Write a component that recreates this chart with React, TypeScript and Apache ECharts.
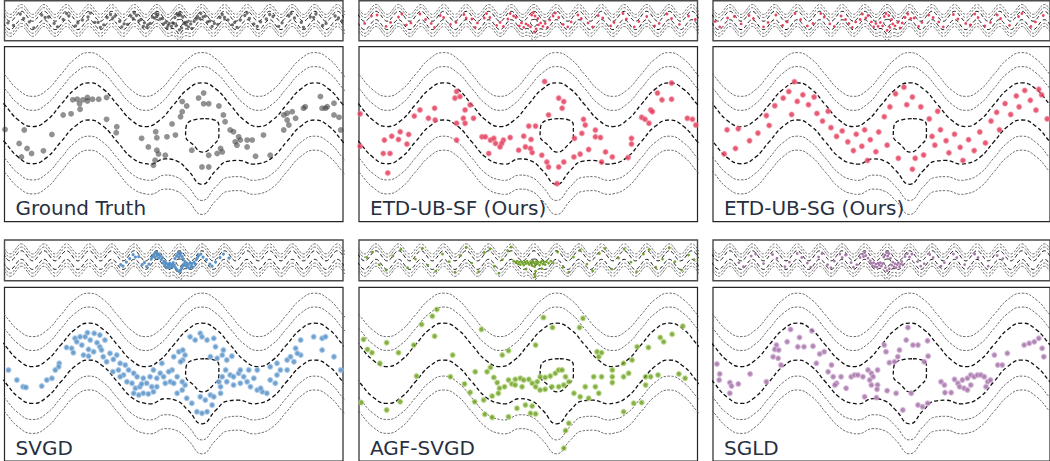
import React, { useEffect, useRef } from "react";
import * as echarts from "echarts";

// ---------- density contours ----------
// band centre over one period (2 x-units), read at quarter steps
const periodOffsets = [0, 0.25, 0.5, 0.75, 1, 1.25, 1.5, 1.75];
const periodCentre = [0, 0.71, 1, 0.71, 0, -0.71, -1, -0.71];
const periodStarts = [-16, -14, -12, -10, -8, -6, -4, -2, 0, 2, 4, 6, 8, 10, 12, 14];
const bandEnd = [16, 0];
// lower half of the band dips around x = 0.5
const dipX = [-0.42, -0.15, 0.05, 0.25, 0.5, 0.75, 0.95, 1.15, 1.42];
const dipY = [-1.02, -0.78, -0.87, -1.3, -1.94, -1.3, -0.89, -0.85, -1.02];
// contour offsets from the band centre
const thickOffsets = [0.85, -0.85];
const thinOffsets = [1.59, 2.23, -1.59, -2.23];
// closed inner contour (hole)
const holeX = [0.56, 0.71, 0.8, 0.8, 0.7, 0.51, 0.35, 0.21, 0.22, 0.38, 0.56];
const holeY = [0.21, 0.16, -0.1, -0.55, -1.0, -1.32, -1.0, -0.55, -0.15, 0.17, 0.21];

// ---------- axis ranges ----------
const bigX = [-3, 3];
const bigY = [-4.5, 3.5];
const stripX = [-15, 15];
const stripY = [-4.1, 4.0];

// ---------- titles ----------
const titles = ["Ground Truth", "ETD-UB-SF (Ours)", "ETD-UB-SG (Ours)", "SVGD", "AGF-SVGD", "SGLD"];

// ---------- particles, zoomed view ----------
const gtBig = [[-1.79,1.07],[-1.71,1.10],[-1.61,1.07],[-1.53,1.18],[-1.53,1.02],[-1.44,1.10],[-1.33,1.10],[-1.19,1.18],[-1.66,0.64],[-1.67,0.89],[-1.96,0.38],[-1.82,0.43],[-1.19,0.18],[-2.99,-0.28],[-2.65,-0.31],[-2.16,-0.51],[-1.01,-0.16],[-1.02,-0.43],[-2.74,-0.92],[-2.60,-1.15],[-2.52,-1.38],[-2.31,-1.26],[-2.70,-1.54],[-0.57,-0.69],[-0.32,-0.39],[-0.30,-0.66],[-0.45,-1.08],[-0.30,-1.23],[-0.27,-1.41],[-0.15,-1.46],[-0.33,-1.69],[-0.36,-1.92],[-0.03,-0.03],[-0.12,-0.62],[0.03,-0.54],[0.15,0.99],[0.23,0.79],[0.15,0.53],[0.12,0.30],[0.44,1.15],[0.53,1.38],[0.53,0.89],[0.62,0.89],[0.80,0.79],[0.88,0.38],[0.91,0.07],[0.32,-1.23],[0.62,-1.46],[0.83,-1.15],[0.86,-1.31],[0.77,-1.38],[0.50,-2.00],[0.62,-2.00],[1.00,-0.31],[1.06,-0.39],[1.15,-0.62],[1.18,-0.77],[1.09,-0.85],[1.12,-1.00],[1.30,-0.77],[1.39,-0.77],[1.30,-1.08],[1.45,-1.51],[1.59,-0.54],[1.71,-1.46],[1.95,0.38],[2.01,0.46],[2.10,0.53],[2.01,0.15],[2.16,0.23],[1.95,-0.31],[2.04,-0.08],[2.30,0.69],[2.33,0.76],[2.60,1.22],[2.63,0.69],[2.69,0.69],[2.72,0.76],[2.84,0.92],[2.84,0.38],[2.93,0.27],[2.96,-0.31]];
const sfBig = [[-2.98,0.43],[-2.98,-1.05],[0.29,1.91],[2.54,1.84],[-1.27,1.45],[-1.30,1.15],[-1.21,1.22],[2.29,1.38],[2.37,1.07],[2.54,1.10],[0.54,1.15],[0.63,0.99],[0.60,0.69],[-1.92,0.61],[-1.66,0.69],[-2.02,0.33],[-1.77,0.23],[-1.65,0.15],[-1.12,0.61],[-1.03,0.84],[-1.15,0.23],[-1.12,0.00],[-1.27,0.00],[-0.97,0.23],[0.36,0.38],[2.17,0.61],[2.20,0.53],[2.01,0.27],[2.07,0.18],[2.14,0.00],[2.82,0.23],[2.91,0.18],[2.97,-0.08],[0.98,0.18],[1.01,-0.08],[1.19,-0.31],[1.19,-0.62],[1.28,-0.65],[0.95,-0.46],[0.82,-0.69],[0.01,-0.13],[0.13,-0.13],[-0.08,-0.59],[0.05,-0.74],[0.04,-1.15],[-0.05,-1.08],[-2.27,-0.39],[-2.42,-0.59],[-2.30,-0.74],[-2.12,-0.51],[-2.55,-0.77],[-2.15,-0.95],[-2.57,-1.38],[-2.45,-1.38],[-2.49,-2.27],[-1.27,-0.77],[-0.82,-0.62],[-0.76,-0.62],[-0.67,-0.77],[-0.61,-0.69],[-0.44,-0.77],[-0.32,-0.65],[-0.47,-0.92],[-0.58,-0.92],[-0.50,-1.08],[-0.70,-1.38],[-0.17,-1.23],[0.07,-1.34],[0.24,-1.46],[0.33,-1.77],[0.36,-2.00],[0.63,-1.77],[0.54,-2.00],[0.51,-2.76],[0.81,-1.54],[0.92,-1.41],[1.07,-1.20],[1.37,-1.31],[1.49,-1.54],[1.30,-1.77],[1.77,-1.57],[1.83,-0.95],[1.83,-0.69]];
const sgBig = [[-2.75,-0.30],[-2.55,-0.25],[-2.80,-1.40],[-2.60,-1.15],[-2.35,-0.80],[-2.20,-0.45],[-2.05,0.35],[-2.00,-0.10],[-1.90,0.80],[-1.75,1.15],[-1.65,1.45],[-1.55,1.90],[-1.50,1.00],[-1.40,1.30],[-1.30,0.85],[-1.20,1.20],[-1.15,0.45],[-1.05,0.10],[-0.95,0.55],[-0.90,-0.20],[-0.80,-0.60],[-0.70,-0.35],[-0.60,-0.85],[-0.50,-1.25],[-0.45,-0.50],[-0.35,-1.05],[-0.30,-0.30],[-0.20,-0.75],[-0.10,-1.30],[-0.05,-0.40],[0.05,0.30],[0.10,-1.00],[0.15,0.75],[0.25,1.35],[0.30,-1.60],[0.40,1.65],[0.45,0.85],[0.55,1.20],[0.55,-2.10],[0.60,-1.60],[0.70,0.75],[0.75,-1.45],[0.85,0.20],[0.90,-0.60],[0.95,-1.00],[1.05,-0.30],[1.15,-0.80],[1.20,-1.35],[1.30,-0.50],[1.40,-1.10],[1.45,-1.70],[1.55,-0.75],[1.65,-1.25],[1.75,-0.40],[1.85,-0.90],[1.95,0.10],[2.05,0.50],[2.10,-0.30],[2.20,0.90],[2.30,0.40],[2.40,1.25],[2.45,0.75],[2.55,1.50],[2.65,1.05],[2.75,0.60],[2.85,1.30],[2.95,0.20],[-0.25,-1.70],[1.00,0.55],[-1.60,0.40],[2.80,1.55]];
const svgdBig = [[-1.75,1.15],[-1.66,1.22],[-1.53,1.41],[-1.41,1.38],[-1.31,1.30],[-1.22,1.07],[-1.36,0.95],[-1.48,1.07],[-1.63,0.84],[-1.81,0.69],[-1.90,0.73],[-1.78,0.49],[-1.51,0.64],[-1.60,0.38],[-1.42,0.53],[-1.31,0.76],[-1.51,0.33],[-1.13,0.46],[-1.01,0.38],[-1.07,0.18],[-1.25,0.30],[-1.19,0.07],[-2.03,0.00],[-2.04,-0.16],[-2.10,-0.31],[-2.25,-0.77],[-2.34,-1.05],[-2.67,-1.08],[-2.62,-1.11],[-2.78,-0.77],[-2.93,-0.31],[-2.16,-0.69],[-0.95,0.00],[-0.86,-0.08],[-0.98,-0.31],[-0.89,-0.54],[-0.80,-0.31],[-0.71,-0.46],[-0.65,-0.62],[-0.74,-0.92],[-0.83,-0.85],[-0.68,-1.15],[-0.60,-1.08],[-0.71,-1.38],[-0.62,-1.46],[-0.54,-1.38],[-0.45,-1.41],[-0.36,-1.31],[-0.39,-1.08],[-0.48,-0.92],[-0.54,-0.69],[-0.42,-0.62],[-0.30,-0.69],[-0.24,-0.46],[-0.18,-0.62],[-0.21,0.00],[-0.15,-0.92],[-0.06,-0.85],[0.00,-0.92],[0.06,-1.38],[0.15,-1.23],[0.20,-1.00],[0.15,-0.85],[0.06,-0.62],[-0.03,-0.31],[0.00,0.30],[0.09,0.53],[0.16,0.61],[0.20,0.38],[0.16,0.15],[0.12,0.07],[0.29,1.22],[0.38,1.07],[0.47,1.38],[0.50,1.22],[0.59,1.07],[0.71,1.15],[0.74,0.76],[0.65,0.30],[0.77,0.23],[0.86,0.38],[0.88,0.61],[1.03,0.33],[0.94,0.15],[0.92,-0.31],[0.32,-1.84],[0.41,-2.23],[0.50,-2.30],[0.59,-2.23],[0.68,-1.92],[0.65,-1.46],[0.71,-1.54],[0.83,-1.38],[0.83,-1.08],[0.80,-0.85],[0.86,-0.62],[1.00,-0.54],[1.06,-0.62],[1.15,-0.46],[1.24,-0.62],[1.30,-0.85],[1.18,-0.92],[1.33,-0.31],[1.48,-0.31],[1.42,-0.69],[1.48,-1.23],[1.57,-1.31],[1.65,-1.38],[1.54,-1.15],[1.71,-0.77],[1.83,-0.54],[1.89,-0.31],[1.83,0.00],[1.71,-0.16],[1.80,-0.92],[2.01,0.15],[2.07,0.30],[2.16,0.69],[2.25,0.38],[2.13,0.07],[2.48,1.22],[2.63,1.15],[2.69,1.22],[2.63,0.61],[2.84,0.30],[2.96,-0.31],[0.47,-1.54],[0.56,-1.69],[0.23,-1.61],[-0.36,-0.31],[-0.09,-0.39],[-0.30,-1.08],[-0.57,-0.95],[-0.95,-0.62],[-1.08,-0.39],[-1.28,0.61],[-1.72,0.99],[-1.57,1.22],[1.18,-0.31],[1.36,-1.08],[1.06,-1.00],[0.94,-0.85],[2.19,0.46],[2.01,-0.31],[2.25,1.07]];
const agfBig = [[-2.92,1.10],[-2.85,0.64],[-2.77,0.49],[-2.51,0.95],[-2.63,0.00],[-2.30,0.49],[-2.03,0.84],[-1.89,1.79],[-1.70,2.17],[-1.62,2.48],[-1.66,1.25],[-1.34,0.38],[-1.98,-0.59],[-1.38,-0.62],[-1.13,-0.95],[-1.03,-1.34],[-0.94,-0.39],[-0.73,-0.39],[-0.67,-0.19],[-2.96,-1.81],[-2.51,-2.15],[-2.27,-1.77],[-0.95,-1.77],[-0.79,-1.69],[-0.77,-2.35],[-0.64,-2.49],[-0.35,-2.46],[-0.20,-2.07],[-0.05,-1.92],[0.07,-1.97],[0.04,-2.30],[0.13,-2.33],[-0.83,1.56],[-0.46,0.38],[-0.35,0.58],[0.27,2.11],[0.13,0.84],[0.43,1.65],[0.97,2.07],[0.91,1.65],[-0.61,-0.65],[-0.55,-0.89],[-0.51,-1.15],[-0.42,-1.08],[-0.35,-0.77],[-0.29,-0.95],[-0.23,-0.74],[-0.14,-0.69],[-0.08,-0.77],[0.01,-0.74],[0.07,-0.92],[0.16,-0.85],[0.21,-0.62],[0.30,-0.65],[0.39,-0.59],[0.48,-0.46],[0.54,-0.31],[0.60,-0.31],[0.66,-0.62],[0.72,-0.85],[0.63,-1.00],[0.54,-1.08],[0.42,-1.08],[0.30,-1.20],[0.21,-1.23],[0.13,-1.08],[-0.11,-1.08],[-0.23,-1.00],[-0.53,-1.38],[-0.64,-1.51],[0.81,-1.38],[0.92,-1.54],[1.07,-1.61],[1.25,-1.38],[1.19,-1.08],[1.30,-0.62],[1.16,-0.62],[1.01,-1.08],[1.49,-0.31],[1.49,-0.62],[1.69,-0.62],[1.78,-0.46],[1.69,0.00],[1.84,0.15],[1.93,0.76],[2.13,0.73],[1.49,-0.89],[1.22,0.53],[1.30,0.49],[1.25,0.30],[2.08,-0.62],[2.17,-0.62],[2.30,-0.54],[2.08,-1.00],[2.67,-0.49],[2.78,-0.69],[2.34,1.19],[2.40,0.99],[2.55,1.34],[2.74,1.71],[1.87,-1.84],[2.01,-1.81],[1.69,-2.23],[0.72,-2.76],[0.66,-3.10],[0.63,-3.91]];
const sgldBig = [[-2.93,-0.03],[-2.88,-0.49],[-2.89,-0.77],[-2.70,-0.89],[-2.67,-1.05],[-2.55,-0.95],[-2.70,-1.38],[-2.34,-0.49],[-2.05,-0.85],[-1.87,0.84],[-1.90,0.64],[-1.93,0.30],[-1.83,0.61],[-1.84,0.23],[-1.79,-0.08],[-1.68,0.99],[-1.62,1.56],[-1.46,1.19],[-1.38,0.76],[-1.49,0.76],[-1.24,1.50],[-1.22,0.79],[-1.10,0.43],[-1.02,0.53],[-1.16,0.00],[-0.89,-0.08],[-0.95,-0.39],[-0.86,-0.62],[-0.80,-0.92],[-0.83,-1.00],[-0.72,-0.62],[-0.63,-1.15],[-0.54,-0.62],[-0.48,-0.54],[-0.42,-0.54],[-0.33,-0.62],[-0.24,-0.31],[-0.18,-0.46],[-0.15,-0.62],[-0.07,-0.31],[-0.21,-0.77],[-0.18,-1.00],[-0.07,-1.00],[-0.08,-1.20],[-0.30,-1.54],[-0.09,-1.58],[0.10,-1.26],[0.26,-1.38],[0.38,-2.15],[0.53,-1.38],[0.65,-1.92],[0.73,-2.00],[0.82,-1.84],[0.05,0.84],[0.08,0.53],[0.14,0.03],[0.23,0.07],[0.32,0.61],[0.47,1.65],[0.29,0.30],[0.44,1.07],[0.56,0.84],[0.65,0.84],[0.82,1.04],[0.83,0.33],[0.76,0.07],[1.06,-0.85],[1.12,-1.00],[1.13,-1.35],[1.24,-1.35],[1.30,-0.74],[1.36,-0.92],[1.39,-1.08],[1.44,-0.77],[1.47,-1.15],[1.53,-1.23],[1.59,-1.00],[1.53,-0.69],[1.59,-0.54],[1.65,-0.62],[1.71,-0.54],[1.77,-0.54],[1.83,-0.62],[1.89,-0.85],[1.94,-0.77],[1.86,-1.08],[2.01,0.38],[2.07,-0.08],[2.15,-0.08],[2.24,0.46],[2.54,0.84],[2.63,0.92],[2.72,0.99],[2.80,1.15],[2.86,0.69],[2.89,0.30]];

// ---------- particles, wide view ----------
const gtStrip = [[-14.7,-0.5],[-14.2,-1.0],[-13.6,1.3],[-13.3,0.4],[-12.8,-0.3],[-12.4,-1.5],[-11.7,1.1],[-11.4,0.6],[-11.1,0.7],[-10.6,-0.6],[-10.3,-1.3],[-9.8,0.2],[-9.5,1.4],[-9.3,0.9],[-8.7,-1.1],[-8.5,-0.5],[-8.1,0.1],[-7.6,0.7],[-7.4,1.5],[-7.0,-0.4],[-6.7,-0.4],[-6.5,-1.4],[-6.2,-0.9],[-5.9,0.6],[-5.6,1.2],[-5.4,0.5],[-5.2,0.9],[-4.8,-0.2],[-4.6,-1.3],[-4.4,-0.7],[-4.1,-0.8],[-3.8,0.9],[-3.6,0.4],[-3.5,1.5],[-3.3,1.0],[-3.1,-0.1],[-2.9,0.2],[-2.7,-1.2],[-2.6,-0.5],[-2.4,-1.4],[-2.3,-0.9],[-2.1,-0.6],[-1.9,0.7],[-1.7,0.5],[-1.6,1.4],[-1.5,0.8],[-1.4,1.2],[-1.2,0.3],[-1.0,0.4],[-0.9,-0.7],[-0.7,-0.4],[-0.6,-1.5],[-0.5,-1.0],[-0.4,-0.6],[-0.2,-1.2],[-0.1,-0.5],[0.0,-0.6],[0.1,0.6],[0.2,-1.1],[0.3,1.3],[0.4,1.0],[0.5,1.5],[0.5,-1.9],[0.6,1.1],[0.7,-1.5],[0.8,0.7],[0.9,-0.6],[1.0,-0.4],[1.1,-0.9],[1.2,-0.3],[1.3,-1.3],[1.5,-0.7],[1.6,-1.6],[1.8,-0.2],[2.0,0.3],[2.1,0.8],[2.3,0.4],[2.4,1.4],[2.6,0.7],[2.8,0.9],[3.0,-0.3],[3.2,-0.1],[3.4,-1.2],[3.6,-0.6],[3.9,-0.8],[4.1,0.6],[4.3,1.2],[4.5,0.6],[4.8,0.1],[5.2,-0.9],[5.4,-0.4],[5.6,-1.4],[5.9,0.1],[6.3,1.0],[6.5,1.5],[6.7,0.4],[7.1,-0.7],[7.4,-1.2],[7.7,-0.3],[8.2,0.3],[8.5,1.2],[8.8,0.8],[9.3,-1.2],[9.6,-0.5],[10.2,0.9],[10.4,1.4],[10.7,0.5],[11.3,-0.4],[11.5,-1.4],[12.1,0.7],[12.4,0.6],[12.6,1.3],[13.2,-1.0],[13.5,-0.6],[14.3,0.9],[14.6,0.5],[14.9,-0.1]];
const sfStrip = [[-14.5,-0.6],[-13.9,0.9],[-13.4,1.1],[-12.6,-1.2],[-12.2,-0.4],[-11.5,0.7],[-11.2,1.3],[-10.8,-0.9],[-10.4,-0.5],[-9.6,1.3],[-9.1,0.2],[-8.6,-0.6],[-8.3,-1.4],[-7.8,1.0],[-7.5,0.6],[-6.9,-0.8],[-6.4,-0.4],[-5.7,1.2],[-5.5,0.5],[-5.0,0.3],[-4.7,-1.4],[-4.5,-0.5],[-3.9,0.5],[-3.7,1.4],[-3.4,0.6],[-2.8,-1.0],[-2.5,-0.4],[-2.2,-1.2],[-1.8,0.3],[-1.6,1.4],[-1.3,0.9],[-1.1,0.6],[-0.8,-1.1],[-0.6,-0.5],[-0.4,-1.4],[-0.2,-0.7],[0.0,-1.0],[0.2,-1.3],[0.3,1.1],[0.45,1.6],[0.55,-2.3],[0.6,0.9],[0.7,-1.7],[0.85,0.4],[0.9,-0.9],[1.1,-0.5],[1.3,-1.2],[1.5,-0.6],[1.7,-1.4],[1.9,0.1],[2.2,0.9],[2.4,1.5],[2.7,0.6],[3.1,-0.8],[3.5,-1.3],[3.8,-0.3],[4.4,1.1],[4.7,0.4],[5.3,-0.5],[5.7,-1.3],[6.2,1.0],[6.6,0.5],[7.3,-1.1],[7.6,-0.4],[8.4,1.4],[8.7,0.3],[9.4,-1.3],[9.8,-0.2],[10.5,0.8],[11.2,-1.1],[11.6,-0.6],[12.3,1.3],[12.7,0.4],[13.4,-0.8],[14.2,0.9],[14.8,0.2]];
const sgStrip = [[-14.8,-0.2],[-14.4,-1.3],[-13.7,0.5],[-13.1,0.8],[-12.5,-0.7],[-11.8,1.0],[-11.4,0.4],[-10.5,-1.3],[-10.1,-0.4],[-9.4,1.1],[-8.8,-1.0],[-8.4,-0.3],[-7.7,1.4],[-7.2,0.2],[-6.6,-1.1],[-6.1,-0.6],[-5.4,1.4],[-5.1,0.7],[-4.6,-0.7],[-4.2,-1.2],[-3.6,0.9],[-3.2,0.2],[-2.9,-0.6],[-2.6,-1.4],[-2.3,-0.3],[-1.9,0.2],[-1.7,1.3],[-1.4,0.5],[-1.2,1.0],[-0.9,-0.3],[-0.7,-1.3],[-0.5,-0.6],[-0.3,-1.2],[-0.1,-0.4],[0.1,-1.1],[0.25,0.8],[0.4,1.4],[0.5,-2.0],[0.65,1.0],[0.75,-1.4],[0.9,0.2],[1.0,-0.7],[1.2,-1.1],[1.45,-0.4],[1.65,-1.5],[1.85,-0.5],[2.1,0.6],[2.35,1.3],[2.6,0.4],[2.9,0.5],[3.3,-1.2],[3.6,-0.4],[4.2,1.1],[4.6,0.6],[5.1,-0.3],[5.5,-1.3],[6.4,1.2],[6.8,0.3],[7.5,-0.6],[7.9,-0.9],[8.3,1.3],[8.6,0.6],[9.2,-1.1],[9.7,-0.4],[10.3,1.1],[10.6,0.4],[11.4,-1.0],[12.2,0.8],[12.5,1.4],[13.3,-1.2],[13.7,-0.3],[14.4,1.0]];
const svgdStrip = [[-4.7,-0.9],[-4.5,-1.2],[-4.2,-0.4],[-3.9,0.3],[-3.6,1.1],[-3.4,0.6],[-3.1,0.7],[-2.8,-0.9],[-2.6,-0.5],[-2.4,-1.3],[-2.2,-0.8],[-2.0,0.2],[-1.9,0.6],[-1.8,0.9],[-1.7,1.3],[-1.65,0.5],[-1.55,1.6],[-1.5,0.9],[-1.45,1.3],[-1.35,0.4],[-1.3,1.1],[-1.2,0.8],[-1.1,0.1],[-1.0,0.5],[-0.95,-0.6],[-0.85,-0.2],[-0.8,-1.0],[-0.7,-0.5],[-0.65,-1.4],[-0.55,-0.8],[-0.5,-1.5],[-0.45,-1.0],[-0.35,-0.6],[-0.3,-1.4],[-0.2,-0.9],[-0.1,-1.3],[-0.05,-0.5],[0.05,-1.0],[0.1,0.3],[0.15,-1.5],[0.25,0.8],[0.3,-1.9],[0.35,1.3],[0.45,0.6],[0.5,1.5],[0.5,-2.3],[0.55,1.0],[0.6,-2.0],[0.65,1.4],[0.7,-1.6],[0.75,0.7],[0.8,-1.2],[0.85,0.2],[0.9,-0.8],[1.0,-0.3],[1.05,-1.1],[1.15,-0.6],[1.2,-1.4],[1.3,-0.9],[1.4,-1.6],[1.45,-0.5],[1.55,-1.2],[1.6,-0.7],[1.7,-1.4],[1.8,-0.4],[1.9,-0.8],[2.0,0.1],[2.1,0.5],[2.2,0.9],[2.4,1.2],[2.6,0.6],[2.9,0.1],[3.2,-0.8],[3.4,-1.2],[3.7,-0.4],[4.1,0.5],[4.4,1.2],[4.9,0.4]];
const agfStrip = [[-14.3,0.5],[-13.8,1.6],[-13.2,-0.9],[-12.6,-2.0],[-12.0,0.8],[-11.3,2.1],[-10.7,-1.5],[-10.0,0.2],[-9.4,2.3],[-8.9,-1.0],[-8.2,-2.2],[-7.6,1.2],[-7.0,-0.3],[-6.5,-2.4],[-6.0,0.9],[-5.5,2.5],[-5.0,-0.6],[-4.4,-2.3],[-3.9,1.5],[-3.4,2.2],[-3.0,-1.2],[-2.6,-2.6],[-2.3,0.1],[-1.8,1.8],[-1.5,2.6],[-1.3,-0.2],[-1.1,-0.5],[-1.0,-0.2],[-0.9,-0.8],[-0.8,-0.4],[-0.7,-0.9],[-0.6,-0.3],[-0.5,-0.6],[-0.4,-1.0],[-0.3,-0.4],[-0.2,-0.7],[-0.1,-0.2],[0.0,-0.6],[0.1,-0.9],[0.2,-0.3],[0.3,-0.6],[0.35,-1.1],[0.4,-0.2],[0.5,-0.5],[0.55,-1.3],[0.6,-0.8],[0.65,-2.2],[0.7,-0.3],[0.8,-0.7],[0.9,-0.4],[1.0,-1.0],[1.1,-0.5],[1.2,-0.2],[1.3,-0.8],[1.4,-0.4],[1.5,-0.9],[1.6,-0.3],[1.8,-0.6],[2.0,-0.2],[2.2,-0.5],[0.6,-3.3],[0.55,-2.8],[-0.2,-1.8],[1.2,-1.7],[2.6,1.6],[3.1,-1.4],[3.6,-2.4],[4.0,0.6],[4.6,2.0],[5.2,-0.8],[5.7,-2.1],[6.3,1.3],[6.8,2.3],[7.4,-1.8],[8.0,0.4],[8.5,2.2],[9.1,-0.4],[9.6,-2.3],[10.2,1.2],[10.7,2.1],[11.3,-1.4],[11.9,0.2],[12.5,2.4],[13.0,-0.3],[13.6,-2.0],[14.2,1.0],[14.7,0.1]];
const sgldStrip = [[-12.7,-0.5],[-12.3,-1.3],[-11.6,0.8],[-11.2,1.2],[-10.5,-0.7],[-9.7,1.1],[-9.3,0.4],[-8.6,-1.3],[-8.2,-0.4],[-7.5,1.3],[-7.1,0.5],[-6.6,-0.6],[-6.3,-1.4],[-5.6,0.6],[-5.3,1.3],[-4.8,-0.9],[-4.5,-1.5],[-4.2,-0.2],[-3.7,1.2],[-3.5,0.5],[-3.2,1.0],[-2.7,-0.5],[-2.5,-1.4],[-2.2,-0.9],[-1.9,0.5],[-1.7,1.2],[-1.6,0.7],[-1.5,1.5],[-1.4,0.9],[-1.2,0.4],[-1.0,-0.1],[-0.9,-0.6],[-0.8,-1.1],[-0.7,-0.5],[-0.6,-1.3],[-0.5,-0.8],[-0.4,-1.4],[-0.3,-0.6],[-0.2,-1.0],[-0.1,-0.5],[0.0,-1.2],[0.1,-0.7],[0.2,0.6],[0.3,1.0],[0.35,-1.5],[0.45,1.5],[0.5,-2.1],[0.55,0.8],[0.65,1.3],[0.7,-1.7],[0.8,0.4],[0.9,-1.0],[1.0,-0.4],[1.1,-1.3],[1.2,-0.7],[1.3,-1.5],[1.4,-0.9],[1.5,-0.5],[1.6,-1.3],[1.7,-0.8],[1.8,-0.3],[1.9,-0.9],[2.1,0.7],[2.3,1.3],[2.5,0.6],[2.7,1.2],[3.2,-0.3],[3.5,-1.2],[3.8,-0.7],[4.3,1.1],[4.6,0.5],[5.3,-1.2],[5.6,-0.5],[6.4,1.2],[6.7,0.5],[7.4,-0.9],[8.3,1.2],[8.6,0.5],[9.5,-1.2],[10.3,0.9],[10.8,0.3]];

const bigSets = [gtBig, sfBig, sgBig, svgdBig, agfBig, sgldBig];
const stripSets = [gtStrip, sfStrip, sgStrip, svgdStrip, agfStrip, sgldStrip];

// ---------- layout & styles ----------
const colLeft = [4.5, 359, 713];
const panelW = 338.5;
const rowLayout = [
  { stripTop: 0.7, stripH: 40, bigTop: 46.7, bigH: 175 },
  { stripTop: 240, stripH: 40.7, bigTop: 287.3, bigH: 175 },
];
const markStyles = [
  { color: "rgba(58,58,58,0.7)", border: "rgba(0,0,0,0)", bw: 0, size: 5.8, stripColor: "rgba(40,40,40,0.75)", stripSize: 3.3 },
  { color: "#e22f4e", border: "rgba(240,135,160,0.65)", bw: 1.4, size: 5, stripColor: "#e22f4e", stripSize: 2.8 },
  { color: "#e22f4e", border: "rgba(240,135,160,0.65)", bw: 1.4, size: 5, stripColor: "#e22f4e", stripSize: 2.8 },
  { color: "#4a88c2", border: "rgba(170,200,232,0.8)", bw: 1.4, size: 5, stripColor: "#4a88c2", stripSize: 3.2 },
  { color: "#679a1c", border: "rgba(190,220,140,0.8)", bw: 1.4, size: 5, stripColor: "#679a1c", stripSize: 2.8 },
  { color: "#9d679f", border: "rgba(215,185,220,0.8)", bw: 1.4, size: 5, stripColor: "#9d679f", stripSize: 2.8 },
];

function buildCentres() {
  const upper: number[][] = [];
  periodStarts.forEach((s) => periodOffsets.forEach((o, i) => upper.push([s + o, periodCentre[i]])));
  upper.push(bandEnd);
  const lower = upper
    .filter(([x]) => x <= -0.5 || x >= 1.5)
    .concat(dipX.map((x, i) => [x, dipY[i]]))
    .sort((a, b) => a[0] - b[0]);
  return { upper, lower };
}

export default function App() {
  const ref = useRef<HTMLDivElement>(null);
  useEffect(() => {
    if (!ref.current) return;
    const chart = echarts.init(ref.current, undefined, { renderer: "svg" });
    const { upper, lower } = buildCentres();
    const hole = holeX.map((x, i) => [x, holeY[i]]);
    const grids: any[] = [];
    const xAxes: any[] = [];
    const yAxes: any[] = [];
    const series: any[] = [];
    const graphic: any[] = [];

    titles.forEach((title, k) => {
      const row = rowLayout[Math.floor(k / 3)];
      const left = colLeft[k % 3];
      const st = markStyles[k];
      const views = [
        { top: row.stripTop, h: row.stripH, xr: stripX, yr: stripY, pts: stripSets[k], strip: true },
        { top: row.bigTop, h: row.bigH, xr: bigX, yr: bigY, pts: bigSets[k], strip: false },
      ];
      views.forEach((v) => {
        const g = grids.length;
        grids.push({
          left, top: v.top, width: panelW, height: v.h, show: true,
          borderColor: v.strip ? "#4a4a4a" : "#262626", borderWidth: v.strip ? 1.4 : 1.2,
          backgroundColor: "#fff", containLabel: false,
        });
        xAxes.push({ gridIndex: g, type: "value", min: v.xr[0], max: v.xr[1], show: false });
        yAxes.push({ gridIndex: g, type: "value", min: v.yr[0], max: v.yr[1], show: false });
        const lineBase = { type: "line", xAxisIndex: g, yAxisIndex: g, smooth: 0.5, symbol: "none", showSymbol: false, silent: true, animation: false };
        thinOffsets.forEach((off) => {
          const c = off > 0 ? upper : lower;
          series.push({ ...lineBase, data: c.map((p) => [p[0], +(p[1] + off).toFixed(3)]), lineStyle: { color: "#5e5e5e", width: 0.9, type: [2.4, 1.4] }, z: 2 });
        });
        thickOffsets.forEach((off) => {
          const c = off > 0 ? upper : lower;
          series.push({ ...lineBase, data: c.map((p) => [p[0], +(p[1] + off).toFixed(3)]), lineStyle: { color: "#111", width: v.strip ? 1.0 : 1.3, type: [4, 2.4] }, z: 3 });
        });
        series.push({ ...lineBase, data: hole, lineStyle: { color: "#111", width: v.strip ? 1.0 : 1.3, type: [4, 2.4] }, z: 3 });
        series.push({
          type: "scatter", xAxisIndex: g, yAxisIndex: g, data: v.pts, silent: true, animation: false,
          symbolSize: v.strip ? st.stripSize : st.size,
          itemStyle: v.strip
            ? { color: st.stripColor, opacity: 0.9 }
            : { color: st.color, borderColor: st.border, borderWidth: st.bw },
          z: 4,
        });
      });
      graphic.push({
        type: "text", x: left + 11, y: row.bigTop + 161, z: 100,
        style: { text: title, font: '20px "DejaVu Sans"', fill: "#27303f", verticalAlign: "middle", align: "left" },
      });
    });

    chart.setOption({ animation: false, grid: grids, xAxis: xAxes, yAxis: yAxes, series, graphic });
    return () => chart.dispose();
  }, []);
  return <div ref={ref} style={{ position: "absolute", left: 0, top: 0, width: 1050, height: 461 }} />;
}
